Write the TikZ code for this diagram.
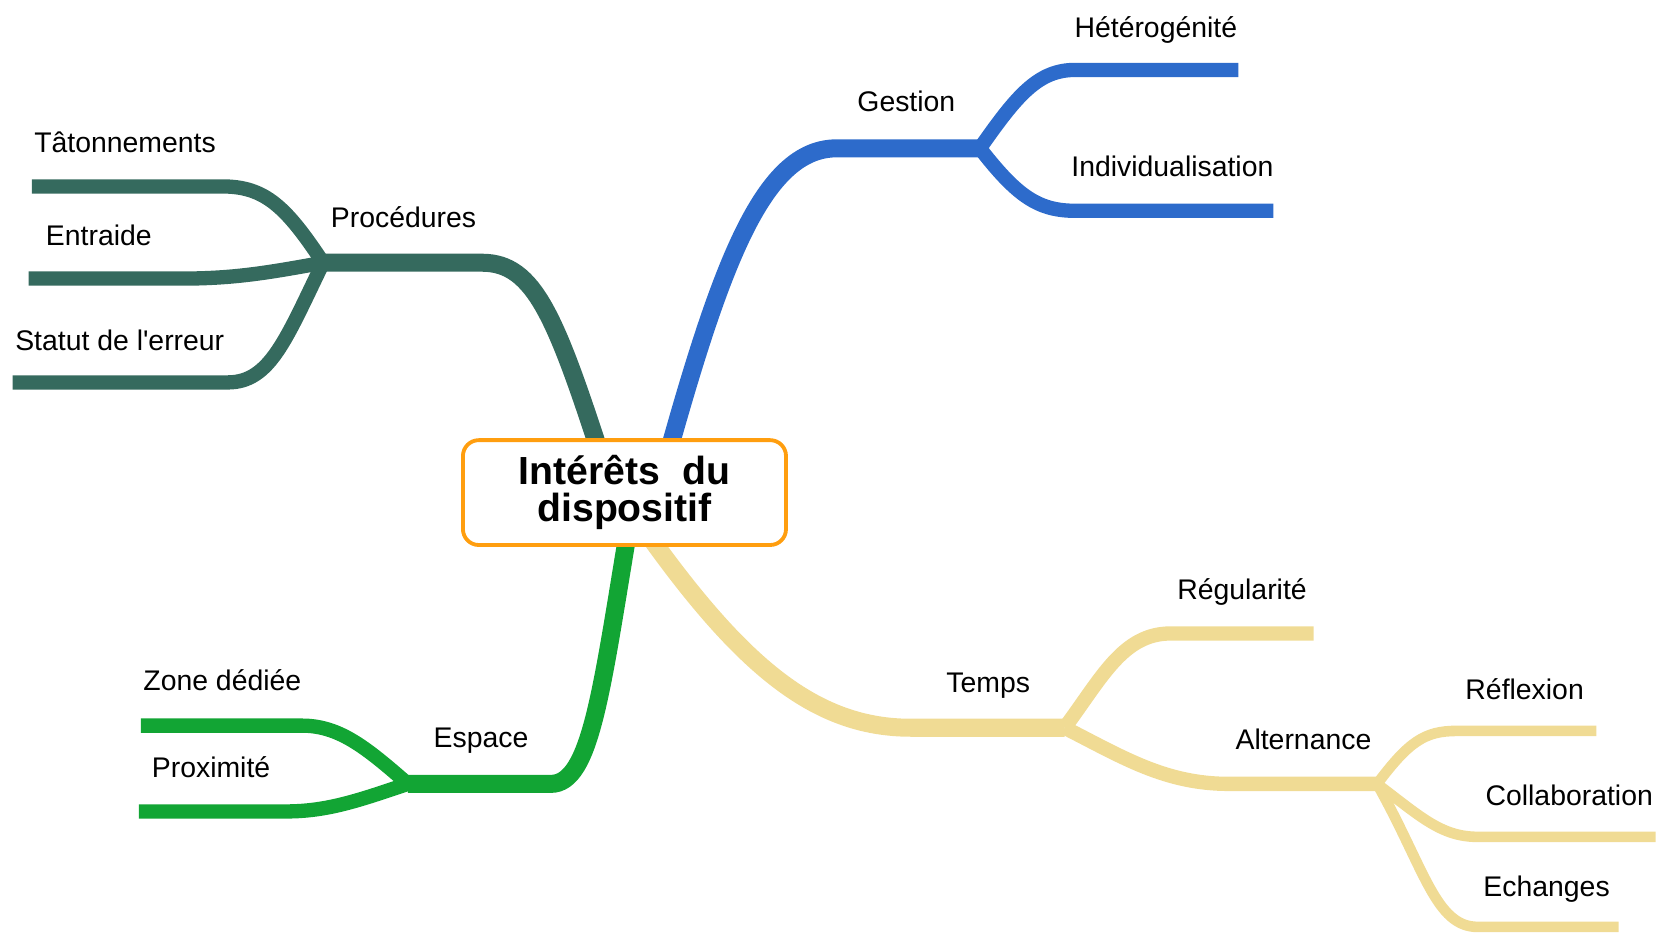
\documentclass[tikz,border=0pt]{standalone}
\usepackage{fontspec}
\setmainfont{Liberation Sans}
\usetikzlibrary{backgrounds}
\definecolor{cproc}{HTML}{356A5E}
\definecolor{cgest}{HTML}{2D6BCB}
\definecolor{cesp}{HTML}{12A534}
\definecolor{ctemps}{HTML}{F0DB94}
\definecolor{cbox}{HTML}{FF9E0F}
\begin{document}
\begin{tikzpicture}[x=0.5pt,y=-0.5pt,
  lbl/.style={anchor=base west, inner sep=0pt, font=\fontsize{13.4}{16}\selectfont},
  trunk/.style={line width=8.5pt},
  lvltwo/.style={line width=6.75pt},
  lvlthree/.style={line width=5pt},
]
\useasboundingbox (0,0) rectangle (1568,882);
\node[draw=cbox, line width=1.8pt, rounded corners=7.5pt, fill=white,
  minimum width=152.5pt, minimum height=49.5pt, inner sep=0pt, align=center,
  font=\fontsize{18.5}{17.5}\selectfont\bfseries] (root) at (589.5,465) {Intérêts\ \ du\\dispositif};

% coordinates
\coordinate (procS) at (571,442);
\coordinate (procJ) at (305,248);
\coordinate (tatE) at (30,176);
\coordinate (entE) at (27,263);
\coordinate (errE) at (12,361);

\coordinate (gestS) at (626,445);
\coordinate (gestJ) at (925,140);
\coordinate (hetE) at (1169,66);
\coordinate (indE) at (1202,199);

\coordinate (espS) at (594,495);
\coordinate (espJ) at (385,740);
\coordinate (zoneE) at (133,685);
\coordinate (proxE) at (131,766);

\coordinate (tempS) at (605,495);
\coordinate (tempJ) at (1005,687);
\coordinate (regE) at (1240,598);
\coordinate (altJ) at (1300,740);
\coordinate (refE) at (1507,690);
\coordinate (colE) at (1563,790);
\coordinate (echE) at (1528,875);

\begin{scope}[on background layer]
\draw[trunk,cproc] (procS) .. controls (525,300) and (505,248) .. (455,248) -- (procJ);
\draw[lvltwo,cproc] (procJ) .. controls (270,195) and (250,176) .. (210,176) -- (tatE);
\draw[lvltwo,cproc] (procJ) .. controls (250,258) and (220,263) .. (170,263) -- (entE);
\draw[lvltwo,cproc] (procJ) .. controls (270,320) and (255,361) .. (215,361) -- (errE);

\draw[trunk,cgest] (gestS) .. controls (680,250) and (720,140) .. (790,140) -- (gestJ);
\draw[lvltwo,cgest] (gestJ) .. controls (960,90) and (980,66) .. (1015,66) -- (hetE);
\draw[lvltwo,cgest] (gestJ) .. controls (960,185) and (980,199) .. (1015,199) -- (indE);

\draw[trunk,cesp] (espS) .. controls (568,650) and (558,740) .. (520,740) -- (espJ);
\draw[lvltwo,cesp] (espJ) .. controls (345,705) and (320,685) .. (285,685) -- (zoneE);
\draw[lvltwo,cesp] (espJ) .. controls (340,755) and (310,766) .. (270,766) -- (proxE);

\draw[trunk,ctemps] (tempS) .. controls (700,630) and (770,687) .. (860,687) -- (tempJ);
\draw[lvltwo,ctemps] (tempJ) .. controls (1040,640) and (1060,598) .. (1105,598) -- (regE);
\draw[lvltwo,ctemps] (tempJ) .. controls (1060,715) and (1100,740) .. (1160,740) -- (altJ);
\draw[lvlthree,ctemps] (altJ) .. controls (1330,700) and (1345,690) .. (1375,690) -- (refE);
\draw[lvlthree,ctemps] (altJ) .. controls (1340,770) and (1360,790) .. (1395,790) -- (colE);
\draw[lvlthree,ctemps] (altJ) .. controls (1345,820) and (1355,875) .. (1395,875) -- (echE);
\end{scope}

% labels
\node[lbl] (lproc) at (312,215) {Procédures};
\node[lbl] (ltat) at (32,144) {Tâtonnements};
\node[lbl] (lent) at (43,232) {Entraide};
\node[lbl] (lerr) at (14,331) {Statut de l\textquotesingle erreur};

\node[lbl] (lgest) at (809,105) {Gestion};
\node[lbl] (lhet) at (1014,35) {Hétérogénité};
\node[lbl] (lind) at (1011,167) {Individualisation};

\node[lbl] (lesp) at (409,706) {Espace};
\node[lbl] (lzone) at (135,652) {Zone dédiée};
\node[lbl] (lprox) at (143,734) {Proximité};

\node[lbl] (ltemp) at (893,654) {Temps};
\node[lbl] (lreg) at (1111,566) {Régularité};
\node[lbl] (lalt) at (1166,708) {Alternance};
\node[lbl] (lref) at (1383,660) {Réflexion};
\node[lbl] (lcol) at (1402,760) {Collaboration};
\node[lbl] (lech) at (1400,846) {Echanges};
\end{tikzpicture}
\end{document}
